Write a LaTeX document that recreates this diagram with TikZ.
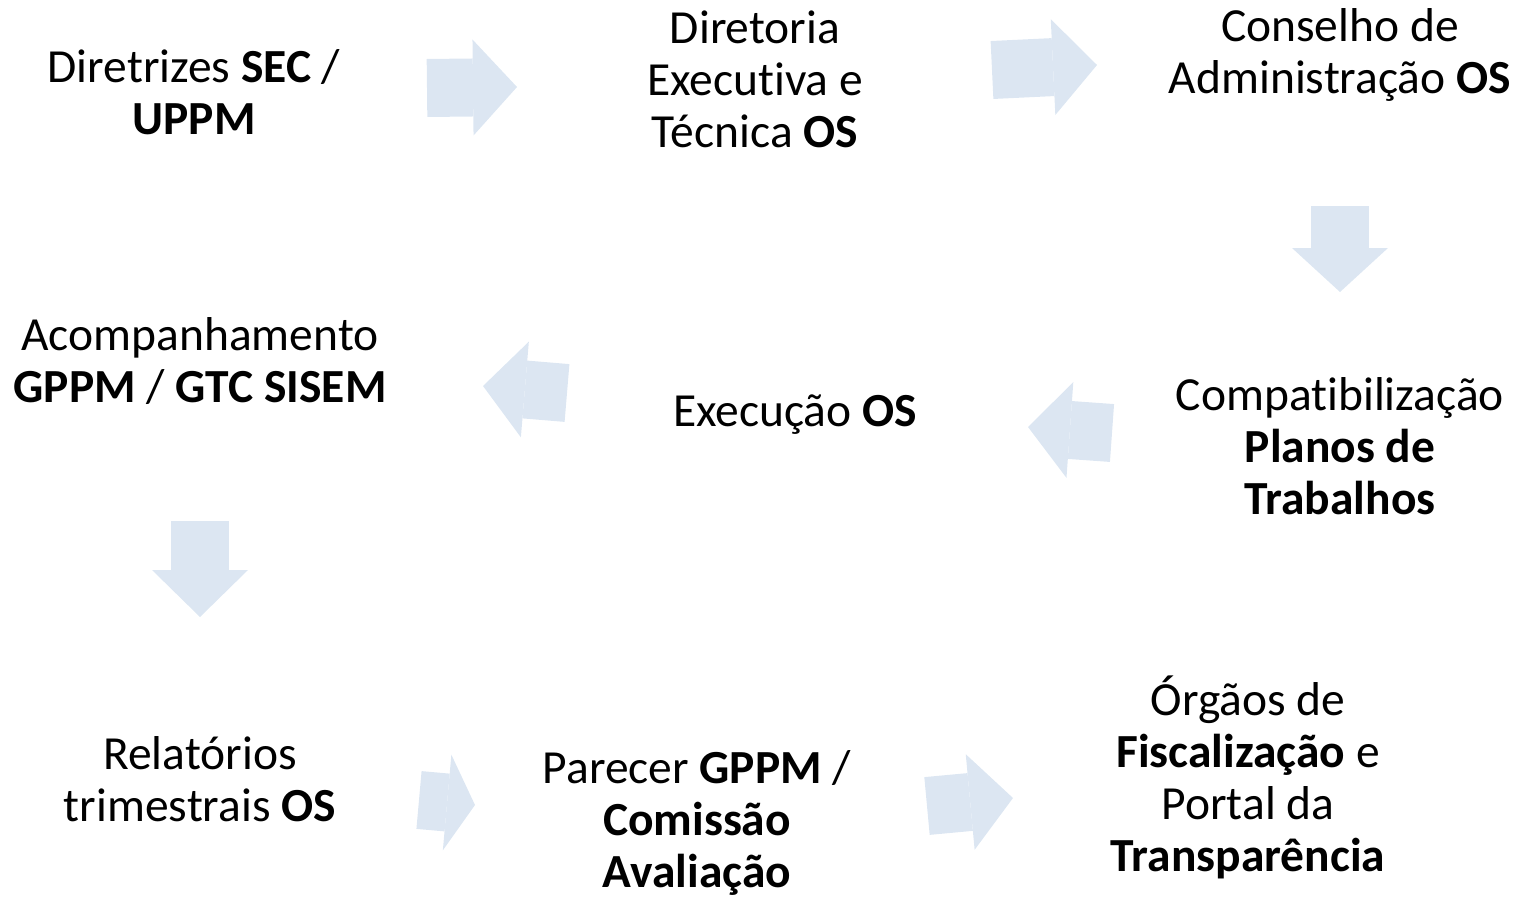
\documentclass[tikz,border=0pt]{standalone}
\usepackage{fontspec}
\setmainfont{Carlito}[Ligatures=NoCommon]
\usepackage{xcolor}
\usetikzlibrary{positioning, arrows.meta}

\definecolor{arrowblue}{HTML}{DCE6F2}

\begin{document}
\begin{tikzpicture}[
    x=1pt, y=-1pt,
    step text/.style={align=center, inner sep=0pt, font=\fontsize{47.5}{52}\selectfont},
    blockarrow/.style={line width=58pt, draw=arrowblue,
        -{Triangle[length=#1, width=96pt, line width=0pt]}},
    blockarrow/.default=44pt
]
\useasboundingbox (0,0) rectangle (1527,899);

% Text of each step
\node[step text] (diretrizes) at (194,92) {Diretrizes \textbf{SEC} /\\ \textbf{UPPM}};
\node[step text] (diretoria) at (755,79) {Diretoria\\ Executiva e\\ Técnica \textbf{OS}};
\node[step text] (conselho) at (1340,55) {Conselho de\\ Administração \textbf{OS}};
\node[step text] (compat) at (1340,446) {Compatibilização\\ \textbf{Planos de}\\ \textbf{Trabalhos}};
\node[step text] (execucao) at (795,415) {Execução \textbf{OS}};
\node[step text] (acomp) at (200,361) {Acompanhamento\\ \textbf{GPPM} / \textbf{GTC SISEM}};
\node[step text] (relatorios) at (200,779) {Relatórios\\ trimestrais \textbf{OS}};
\node[step text] (parecer) at (697,823) {Parecer \textbf{GPPM} /\\ \textbf{Comissão}\\ \textbf{Avaliação}};
\node[step text] (orgaos) at (1248,777) {Órgãos de\\ \textbf{Fiscalização} e\\ Portal da\\ \textbf{Transparência}};

% Ends of the block arrows
\coordinate (a1s) at (427,88);   \coordinate (a1e) at (517,87);
\coordinate (a2s) at (992,70);   \coordinate (a2e) at (1097,65);
\coordinate (a3s) at (1340,206); \coordinate (a3e) at (1340,292);
\coordinate (a4s) at (1112,433); \coordinate (a4e) at (1028,427);
\coordinate (a5s) at (567,393);  \coordinate (a5e) at (483,386);
\coordinate (a6s) at (200,521);  \coordinate (a6e) at (200,617);
\coordinate (a7s) at (419,800);  \coordinate (a7e) at (475,805);
\coordinate (a8s) at (927,806);  \coordinate (a8e) at (1013,798);

% Block arrows
\draw[blockarrow] (a1s) -- (a1e);
\draw[blockarrow] (a2s) -- (a2e);
\draw[blockarrow] (a3s) -- (a3e);
\draw[blockarrow=42pt] (a4s) -- (a4e);
\draw[blockarrow=42pt] (a5s) -- (a5e);
\draw[blockarrow=47pt] (a6s) -- (a6e);
\draw[blockarrow=28pt] (a7s) -- (a7e);
\draw[blockarrow=43pt] (a8s) -- (a8e);

\end{tikzpicture}
\end{document}
